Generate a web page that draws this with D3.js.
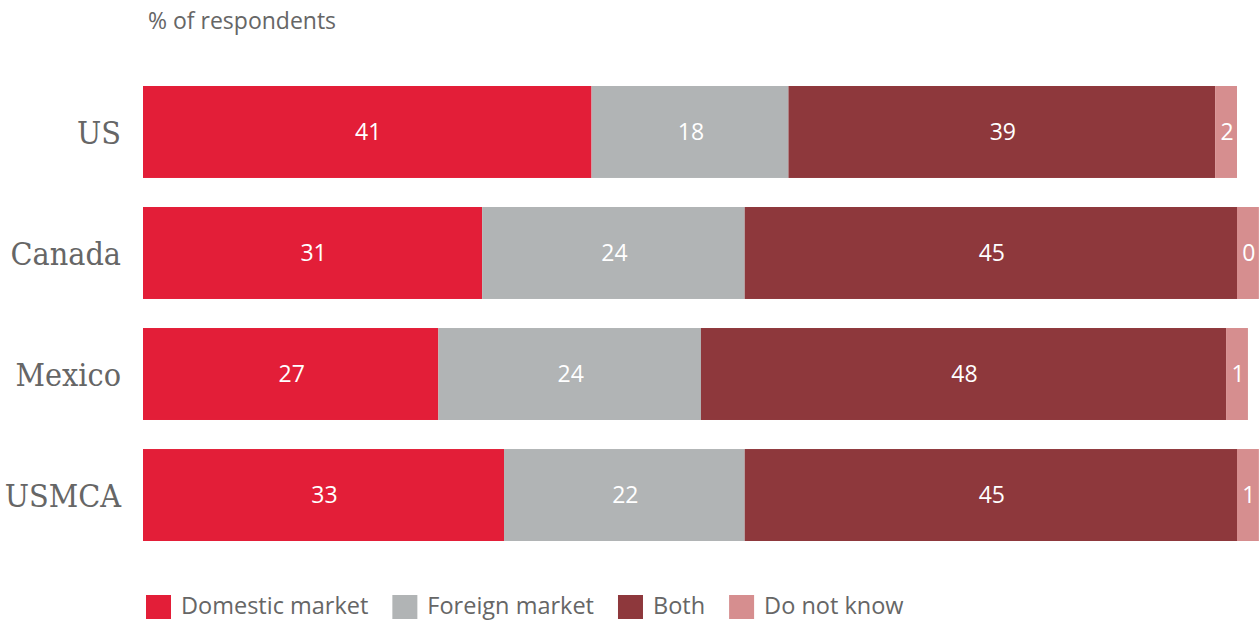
<!DOCTYPE html>
<html><head><meta charset="utf-8">
<script src="https://cdn.jsdelivr.net/npm/d3@7"></script>
<style>body{margin:0;background:#fff}svg{display:block}</style>
</head><body>
<script>
const categories = ["US", "Canada", "Mexico", "USMCA"];
const seriesNames = ["Domestic market", "Foreign market", "Both", "Do not know"];
const domestic = [41, 31, 27, 33];
const foreign = [18, 24, 24, 22];
const both = [39, 45, 48, 45];
const doNotKnow = [2, 0, 1, 1];
const colors = ["#e31e38", "#b1b4b5", "#8e383c", "#d68e8f"];
const minSegment = 2; // smallest drawn segment so its label fits

const W = 1260, H = 621;
const svg = d3.select("body").append("svg").attr("width", W).attr("height", H);

const x = d3.scaleLinear().domain([0, 100]).range([143, 1237]);
const y = d3.scaleBand().domain(categories).range([86, 541]).paddingInner(0.24).paddingOuter(0);

const series = [domestic, foreign, both, doNotKnow];

svg.append("text").attr("x", 148).attr("y", 21).attr("dy", "0.36em")
  .attr("font-family", "Open Sans").attr("font-size", 23).attr("fill", "#666")
  .text("% of respondents");

categories.forEach((c, i) => {
  let acc = 0;
  series.forEach((s, j) => {
    const v = s[i];
    const w = Math.max(v, j === 3 ? minSegment : 0);
    const x0 = x(acc), x1 = x(acc + w);
    svg.append("rect").attr("x", x0).attr("y", y(c)).attr("width", x1 - x0)
      .attr("height", y.bandwidth()).attr("fill", colors[j]);
    svg.append("text").attr("x", (x0 + x1) / 2 + 1).attr("y", y(c) + y.bandwidth() / 2)
      .attr("dy", "0.36em").attr("text-anchor", "middle")
      .attr("font-family", "Open Sans").attr("font-size", 23).attr("fill", "#fff")
      .text(v);
    acc += w;
  });
  svg.append("text").attr("x", 121).attr("y", y(c) + y.bandwidth() / 2)
    .attr("dy", "0.36em").attr("text-anchor", "end")
    .attr("font-family", "DejaVu Serif Condensed, DejaVu Serif").attr("font-stretch", "condensed")
    .attr("font-size", 32).attr("fill", "#666")
    .text(c);
});

// legend
let lx = 146;
const ly = 595;
seriesNames.forEach((n, j) => {
  svg.append("rect").attr("x", lx).attr("y", ly).attr("width", 25).attr("height", 24).attr("fill", colors[j]);
  const t = svg.append("text").attr("x", lx + 35).attr("y", ly + 11).attr("dy", "0.35em")
    .attr("font-family", "Open Sans").attr("font-size", 23.5).attr("fill", "#666").text(n);
  lx += 35 + t.node().getComputedTextLength() + 24;
});
</script>
</body></html>
